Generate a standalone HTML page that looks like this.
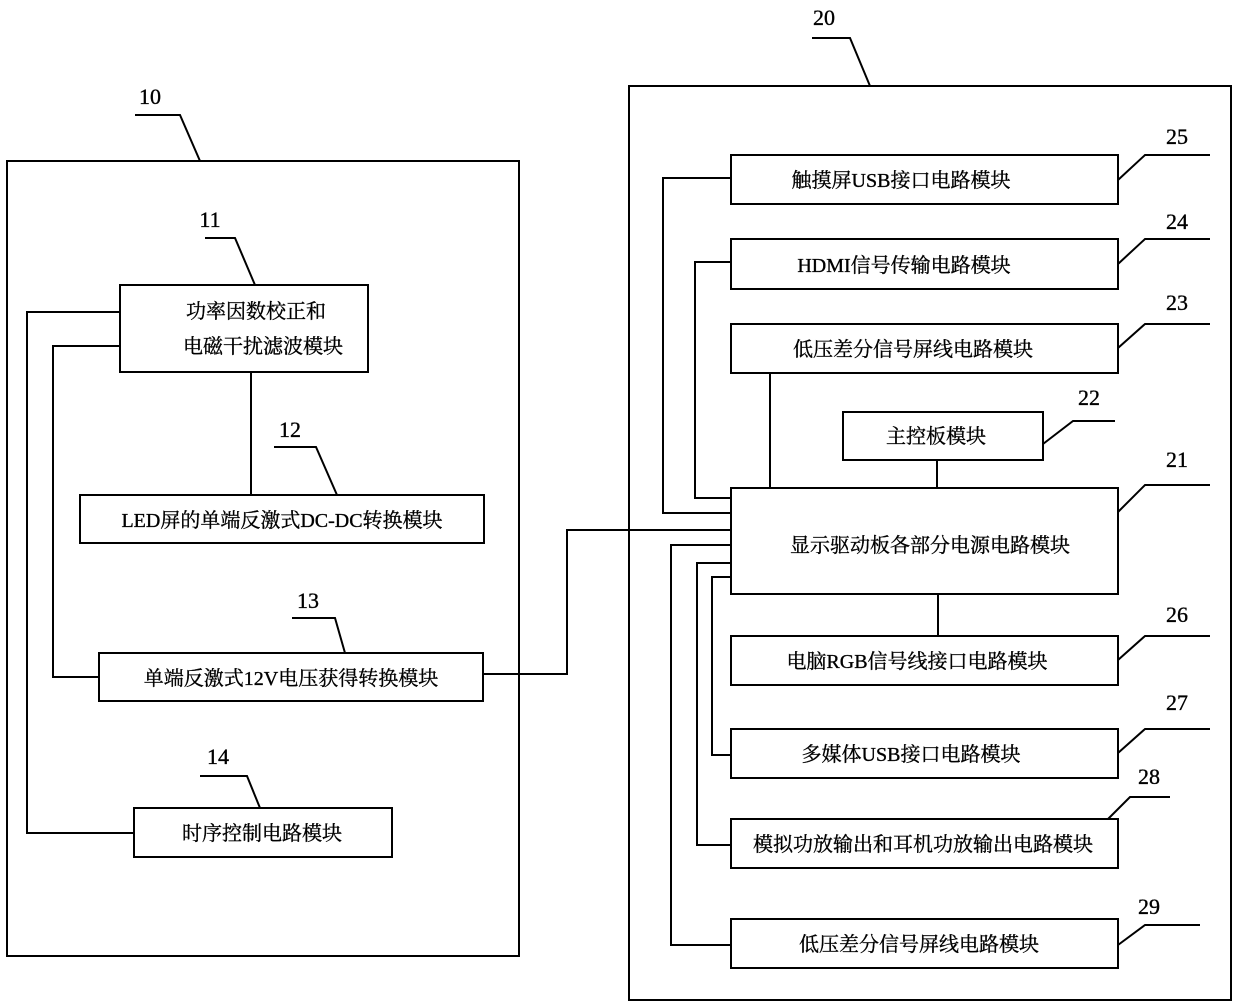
<!DOCTYPE html>
<html><head><meta charset="utf-8"><style>
html,body{margin:0;padding:0;background:#fff;}
svg{display:block;}
text{font-family:"Liberation Serif","Noto Serif CJK SC",serif;font-size:20px;fill:#000;stroke:#000;stroke-width:0.35;}
.n{font-size:22px;}
</style></head><body>
<svg width="1240" height="1007" viewBox="0 0 1240 1007" xmlns="http://www.w3.org/2000/svg">
<g fill="none" stroke="#000" stroke-width="2">
<rect x="7" y="161" width="512" height="795"/>
<rect x="629" y="86" width="602" height="914"/>
<rect x="120" y="285" width="248" height="87"/>
<rect x="80" y="495" width="404" height="48"/>
<rect x="99" y="653" width="384" height="48"/>
<rect x="134" y="808" width="258" height="49"/>
<rect x="731" y="155" width="387" height="49"/>
<rect x="731" y="239" width="387" height="50"/>
<rect x="731" y="324" width="387" height="49"/>
<rect x="843" y="412" width="200" height="48"/>
<rect x="731" y="488" width="387" height="106"/>
<rect x="731" y="636" width="387" height="49"/>
<rect x="731" y="729" width="387" height="49"/>
<rect x="731" y="819" width="387" height="49"/>
<rect x="731" y="919" width="387" height="49"/>
<polyline points="120,312 27,312 27,833 134,833"/>
<polyline points="120,346 53,346 53,677 99,677"/>
<line x1="251" y1="372" x2="251" y2="495"/>
<polyline points="483,674 567,674 567,530 731,530"/>
<polyline points="731,178 663,178 663,513 731,513"/>
<polyline points="731,262 695,262 695,498 731,498"/>
<line x1="770" y1="373" x2="770" y2="488"/>
<line x1="937" y1="460" x2="937" y2="488"/>
<line x1="938" y1="594" x2="938" y2="636"/>
<polyline points="731,577 712,577 712,755 731,755"/>
<polyline points="731,563 697,563 697,845 731,845"/>
<polyline points="731,545 671,545 671,945 731,945"/>
<polyline points="135,115 180,115 200,161"/>
<polyline points="205,238 235,238 255,285"/>
<polyline points="274,447 316,447 337,495"/>
<polyline points="292,618 335,618 345,653"/>
<polyline points="200,776 247,776 260,808"/>
<polyline points="812,38 850,38 870,86"/>
<polyline points="1118,180 1145,155 1210,155"/>
<polyline points="1118,264 1145,239 1210,239"/>
<polyline points="1118,348 1145,324 1210,324"/>
<polyline points="1043,444 1073,421 1115,421"/>
<polyline points="1118,512 1145,485 1210,485"/>
<polyline points="1118,660 1145,636 1210,636"/>
<polyline points="1118,753 1145,729 1210,729"/>
<polyline points="1108,819 1130,797 1170,797"/>
<polyline points="1118,945 1145,925 1200,925"/>
</g>
<g text-anchor="middle">
<text class="n" x="150" y="104">10</text>
<text class="n" x="210" y="227">11</text>
<text class="n" x="290" y="437">12</text>
<text class="n" x="308" y="608">13</text>
<text class="n" x="218" y="764">14</text>
<text class="n" x="824" y="25">20</text>
<text class="n" x="1177" y="144">25</text>
<text class="n" x="1177" y="229">24</text>
<text class="n" x="1177" y="310">23</text>
<text class="n" x="1089" y="405">22</text>
<text class="n" x="1177" y="467">21</text>
<text class="n" x="1177" y="622">26</text>
<text class="n" x="1177" y="710">27</text>
<text class="n" x="1149" y="784">28</text>
<text class="n" x="1149" y="914">29</text>

<text x="256" y="318">功率因数校正和</text>
<text x="263" y="353">电磁干扰滤波模块</text>
<text x="282" y="527">LED屏的单端反激式DC-DC转换模块</text>
<text x="291" y="685">单端反激式12V电压获得转换模块</text>
<text x="262" y="840">时序控制电路模块</text>

<text x="901" y="187">触摸屏USB接口电路模块</text>
<text x="904" y="272">HDMI信号传输电路模块</text>
<text x="913" y="356">低压差分信号屏线电路模块</text>
<text x="936" y="443">主控板模块</text>
<text x="930" y="552">显示驱动板各部分电源电路模块</text>
<text x="917" y="668">电脑RGB信号线接口电路模块</text>
<text x="911" y="761">多媒体USB接口电路模块</text>
<text x="923" y="851">模拟功放输出和耳机功放输出电路模块</text>
<text x="919" y="951">低压差分信号屏线电路模块</text>
</g>
</svg>
</body></html>
